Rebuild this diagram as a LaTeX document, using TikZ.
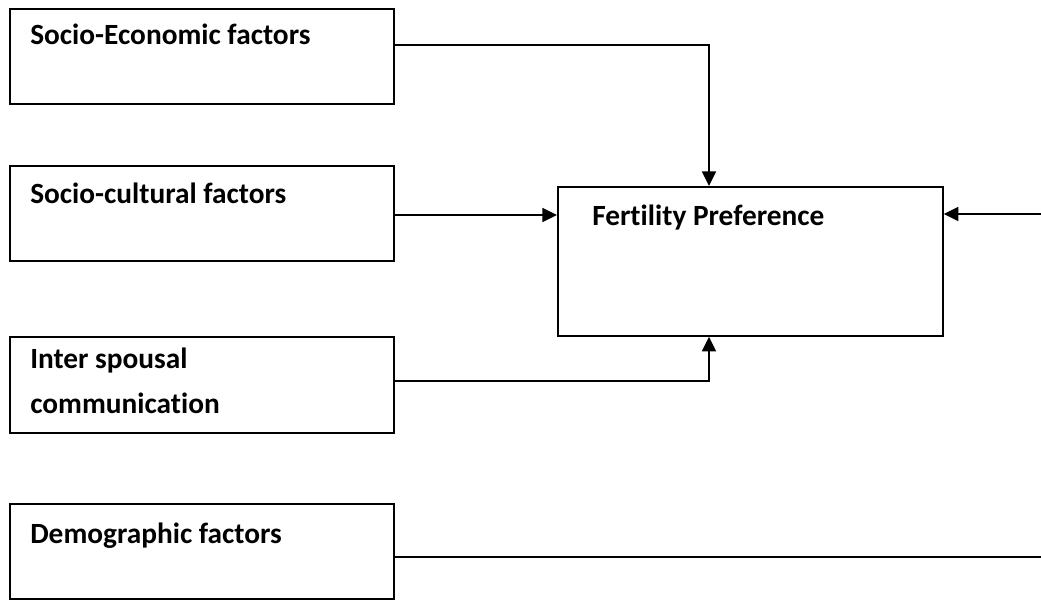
\documentclass[tikz,border=0pt]{standalone}
\usepackage{fontspec}
\setmainfont{Carlito}[RawFeature={-liga}]
\usetikzlibrary{arrows.meta}
\tikzset{
  box/.style={draw, line width=1.3pt, rectangle, inner sep=0pt, anchor=north west, minimum width=288pt},
  lbl/.style={anchor=base west, inner sep=0pt, font=\fontsize{22}{33.75}\selectfont\bfseries, align=left},
  conn/.style={line width=1.3pt},
  arr/.style={conn, -{Triangle[length=11pt,width=10.5pt]}}
}
\begin{document}
\begin{tikzpicture}[x=0.75pt,y=-0.75pt]
\useasboundingbox (0,0) rectangle (1041,599);
\node[box, minimum height=71.25pt] (se) at (9,8) {};
\node[box, minimum height=71.25pt] (sc) at (9,165) {};
\node[box, minimum height=72pt] (is) at (9,336) {};
\node[box, minimum height=71.25pt] (dm) at (9,503) {};
\node[box, minimum width=288.75pt, minimum height=111.75pt] (fp) at (557,186) {};
\node[lbl] (set) at (30,45) {Socio-Economic factors};
\node[lbl] (sct) at (30,203) {Socio-cultural factors};
\node[lbl] (ist) at (30,413) {Inter spousal\\communication};
\node[lbl] (dmt) at (30,543) {Demographic factors};
\node[lbl] (fpt) at (592,225) {Fertility Preference};
\coordinate (rin) at (1041,214);
\coordinate (rout) at (1041,557);
\draw[arr] ([yshift=-27.75pt]se.north east) -| ([xshift=114pt]fp.north west);
\draw[arr] ([yshift=-37.5pt]sc.north east) coordinate (a) -- (a -| fp.west);
\draw[arr] ([yshift=-33.75pt]is.north east) -| ([xshift=114pt]fp.south west);
\draw[arr] (rin) -- (rin -| fp.east);
\draw[conn] ([yshift=-40.5pt]dm.north east) -- (rout);
\end{tikzpicture}
\end{document}
